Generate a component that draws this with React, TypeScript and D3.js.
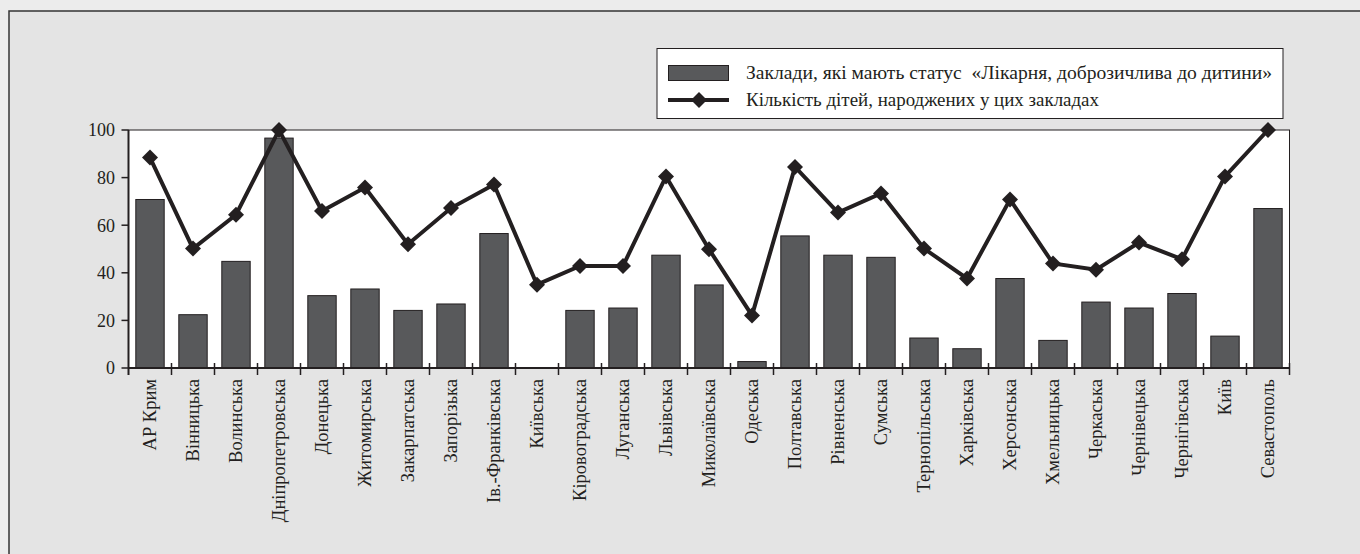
import React from "react";
import * as d3 from "d3";

const categories: string[] = [
  "АР Крим", "Вінницька", "Волинська", "Дніпропетровська", "Донецька", "Житомирська",
  "Закарпатська", "Запорізька", "Ів.-Франківська", "Київська", "Кіровоградська", "Луганська",
  "Львівська", "Миколаївська", "Одеська", "Полтавська", "Рівненська", "Сумська",
  "Тернопільська", "Харківська", "Херсонська", "Хмельницька", "Черкаська", "Чернівецька",
  "Чернігівська", "Київ", "Севастополь",
];
const facilities: number[] = [
  70.8, 22.4, 44.8, 96.6, 30.4, 33.2, 24.2, 26.9, 56.5, 0, 24.2, 25.2, 47.4, 34.9,
  2.7, 55.5, 47.4, 46.5, 12.6, 8.1, 37.6, 11.6, 27.7, 25.2, 31.3, 13.4, 67.0,
];
const births: number[] = [
  88.4, 50.2, 64.4, 100, 66.0, 75.8, 52.0, 67.2, 77.1, 35.0, 42.9, 42.9, 80.5, 49.9,
  22.1, 84.5, 65.3, 73.3, 50.2, 37.6, 70.8, 43.9, 41.3, 52.7, 45.7, 80.5, 100,
];
const yTicks: number[] = [0, 20, 40, 60, 80, 100];
const legendLabels: string[] = [
  "Заклади, які мають статус  «Лікарня, доброзичлива до дитини»",
  "Кількість дітей, народжених у цих закладах",
];

const W = 1360;
const H = 554;
const FONT = "Liberation Serif, DejaVu Serif, serif";
const DARK = "#231f20";
const BAR = "#58595b";

export default function App() {
  const left = 128.5;
  const right = 1289.5;
  const top = 130;
  const bottom = 368;
  const x = d3.scaleBand<string>().domain(categories).range([left, right]).padding(0);
  const y = d3.scaleLinear().domain([0, 100]).range([bottom, top]);
  const bw = x.bandwidth() * 0.66;
  const cx = (c: string) => (x(c) as number) + x.bandwidth() / 2;
  const line = d3
    .line<number>()
    .x((_, i) => cx(categories[i]))
    .y((d) => y(d));
  const diamond = (px: number, py: number, r: number) =>
    `M${px},${py - r}L${px + r},${py}L${px},${py + r}L${px - r},${py}Z`;
  const boundaries = categories.map((c) => (x(c) as number) + x.bandwidth());
  const ts: React.CSSProperties = { fontFamily: FONT, whiteSpace: "pre" };

  return (
    <svg
      width={W}
      height={H}
      style={{ position: "absolute", left: 0, top: 0, display: "block" }}
    >
      <rect x={0} y={0} width={W} height={H} fill="#ececec" />
      <rect x={9} y={11} width={W + 10} height={H + 10} fill="#e4e4e4" stroke="#333" strokeWidth={1.5} />

      {/* legend */}
      <rect x={657} y={48.5} width={626} height={70} fill="#fff" stroke={DARK} strokeWidth={1} />
      <rect x={668.5} y={65.5} width={60} height={15} fill={BAR} stroke={DARK} strokeWidth={1} />
      <line x1={668} x2={729} y1={100} y2={100} stroke={DARK} strokeWidth={4} />
      <path d={diamond(699, 100, 8)} fill={DARK} />
      <text x={746} y={79} fontSize={18} fill={DARK} style={ts} textLength={526} lengthAdjust="spacingAndGlyphs">
        {legendLabels[0]}
      </text>
      <text x={746} y={106} fontSize={18} fill={DARK} style={ts} textLength={353} lengthAdjust="spacingAndGlyphs">
        {legendLabels[1]}
      </text>

      {/* plot area */}
      <rect x={left} y={top} width={right - left} height={bottom - top} fill="#fff" stroke={DARK} strokeWidth={1} />

      {/* bars */}
      {categories.map((c, i) =>
        facilities[i] > 0 ? (
          <rect
            key={c}
            x={cx(c) - bw / 2}
            y={y(facilities[i])}
            width={bw}
            height={bottom - y(facilities[i])}
            fill={BAR}
            stroke={DARK}
            strokeWidth={1}
          />
        ) : null
      )}

      {/* axes */}
      <line x1={left} x2={left} y1={top} y2={bottom + 7} stroke={DARK} strokeWidth={2} />
      <line x1={left} x2={right} y1={bottom} y2={bottom} stroke={DARK} strokeWidth={2} />
      {yTicks.map((t) => (
        <g key={t}>
          <line x1={left - 7} x2={left} y1={y(t)} y2={y(t)} stroke={DARK} strokeWidth={1.5} />
          <text x={115} y={y(t)} dy="0.35em" textAnchor="end" fontSize={18} fill={DARK} style={ts}>
            {t}
          </text>
        </g>
      ))}
      {boundaries.map((b, i) => (
        <line key={i} x1={b} x2={b} y1={bottom - 5} y2={bottom + 7} stroke={DARK} strokeWidth={1.5} />
      ))}
      {categories.map((c) => (
        <text
          key={c}
          transform={`translate(${cx(c)},${bottom + 11}) rotate(-90)`}
          textAnchor="end"
          dy="0.35em"
          fontSize={18.5}
          fill={DARK}
          style={ts}
        >
          {c}
        </text>
      ))}

      {/* line series */}
      <path d={line(births) as string} fill="none" stroke={DARK} strokeWidth={4} strokeLinejoin="miter" />
      {births.map((v, i) => (
        <path key={i} d={diamond(cx(categories[i]), y(v), 8)} fill={DARK} />
      ))}
    </svg>
  );
}
